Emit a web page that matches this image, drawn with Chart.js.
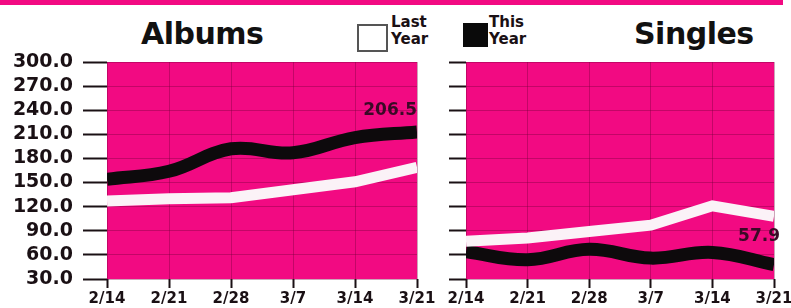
<!DOCTYPE html>
<html>
<head>
<meta charset="utf-8">
<script src="https://cdn.jsdelivr.net/npm/chart.js@4/dist/chart.umd.min.js"></script>
<style>
  body { margin: 0; width: 791px; height: 308px; background: #fff; position: relative; overflow: hidden; font-family: "DejaVu Sans", sans-serif; }
  .topbar { position: absolute; left: 0; top: 0; width: 783px; height: 5px; background: #f20a82; }
  .title { position: absolute; font-weight: bold; font-size: 30px; color: #111; letter-spacing: -0.5px; }
  .legtext { position: absolute; font-weight: bold; font-size: 15px; line-height: 17px; color: #1a1014; }
  .box { position: absolute; }
  canvas { position: absolute; top: 0; }
</style>
</head>
<body>
<div class="topbar"></div>
<div class="title" style="left:141px; top:16px;">Albums</div>
<div class="title" style="left:634px; top:16px;">Singles</div>
<div class="box" style="left:357px; top:24px; width:27px; height:24px; background:#fff; border:2px solid #555;"></div>
<div class="legtext" style="left:391px; top:14px;">Last<br>Year</div>
<div class="box" style="left:463px; top:23px; width:25px; height:24px; background:#0a0a0a;"></div>
<div class="legtext" style="left:489px; top:14px;">This<br>Year</div>
<canvas id="albums" width="440" height="308" style="left:0"></canvas>
<canvas id="singles" width="351" height="308" style="left:440px"></canvas>
<script>
const weeks = ["2/14", "2/21", "2/28", "3/7", "3/14", "3/21"];
const albumsLastYear = [127, 130, 131, 141, 151, 169];
const albumsThisYear = [154, 164, 192, 187, 206, 213];
const singlesLastYear = [77, 81, 89, 97, 121, 108];
const singlesThisYear = [64, 54, 67, 56, 63, 48];
const albumsEndLabel = "206.5";
const singlesEndLabel = "57.9";

const plotPink = "#f20a82";
const inkColor = "#1a1014";

// pink plot background
const plotBg = {
  id: "plotBg",
  beforeDraw(chart) {
    const a = chart.chartArea;
    chart.ctx.save();
    chart.ctx.fillStyle = plotPink;
    chart.ctx.fillRect(a.left, a.top, a.right - a.left, a.bottom - a.top);
    chart.ctx.restore();
  },
};

// value written next to the end of the black line
const endLabel = {
  id: "endLabel",
  afterDatasetsDraw(chart, args, opts) {
    const ds = chart.data.datasets[1];
    const last = ds.data.length - 1;
    const x = chart.scales.x.getPixelForValue(last);
    const y = chart.scales.y.getPixelForValue(ds.data[last]);
    const c = chart.ctx;
    c.save();
    c.font = "bold 17px 'DejaVu Sans'";
    c.fillStyle = "#3a0a26";
    c.textAlign = "right";
    c.textBaseline = "middle";
    c.fillText(opts.text, x + opts.dx, y + opts.dy);
    c.restore();
  },
};

function makeChart(id, lastYear, thisYear, yWidth, tickLen, showLabels, padRight, label, dx, dy) {
  return new Chart(document.getElementById(id), {
    type: "line",
    data: {
      labels: weeks,
      datasets: [
        {
          label: "Last Year",
          data: lastYear,
          borderColor: "#fbf2f7",
          borderWidth: 11,
          tension: 0,
          pointRadius: 0,
          clip: 0,
        },
        {
          label: "This Year",
          data: thisYear,
          borderColor: "#0d0a0c",
          borderWidth: 13,
          tension: 0.4,
          pointRadius: 0,
          clip: 0,
        },
      ],
    },
    options: {
      responsive: false,
      animation: false,
      layout: {
        padding: { top: 62, right: padRight, bottom: 0, left: 0 },
      },
      scales: {
        x: {
          offset: false,
          border: { display: false },
          grid: {
            color: "rgba(110,0,55,0.35)",
            lineWidth: 1,
            tickLength: 9,
            tickColor: inkColor,
            tickWidth: 2,
          },
          ticks: {
            padding: 2,
            maxRotation: 0,
            autoSkip: false,
            color: inkColor,
            font: { family: "DejaVu Sans", weight: "bold", size: 15 },
          },
          afterFit: (s) => {
            s.height = 29;
            s.paddingLeft = 0;
            s.paddingRight = 0;
          },
        },
        y: {
          min: 30,
          max: 300,
          border: { display: false },
          grid: {
            color: "rgba(110,0,55,0.35)",
            lineWidth: 1,
            tickLength: tickLen,
            tickColor: inkColor,
            tickWidth: 2,
          },
          ticks: {
            display: showLabels,
            autoSkip: false,
            stepSize: 30,
            padding: 10,
            color: inkColor,
            font: { family: "DejaVu Sans", weight: "bold", size: 19 },
            callback: (v) => v.toFixed(1),
          },
          afterFit: (s) => {
            s.width = yWidth;
            s.paddingTop = 0;
            s.paddingBottom = 0;
          },
        },
      },
      plugins: {
        legend: { display: false },
        tooltip: { enabled: false },
        endLabel: { text: label, dx: dx, dy: dy },
      },
    },
    plugins: [plotBg, endLabel],
  });
}

makeChart("albums", albumsLastYear, albumsThisYear, 107, 24, true, 23, albumsEndLabel, 0, -21);
makeChart("singles", singlesLastYear, singlesThisYear, 26, 17, false, 17, singlesEndLabel, 6, -28);
</script>
</body>
</html>
